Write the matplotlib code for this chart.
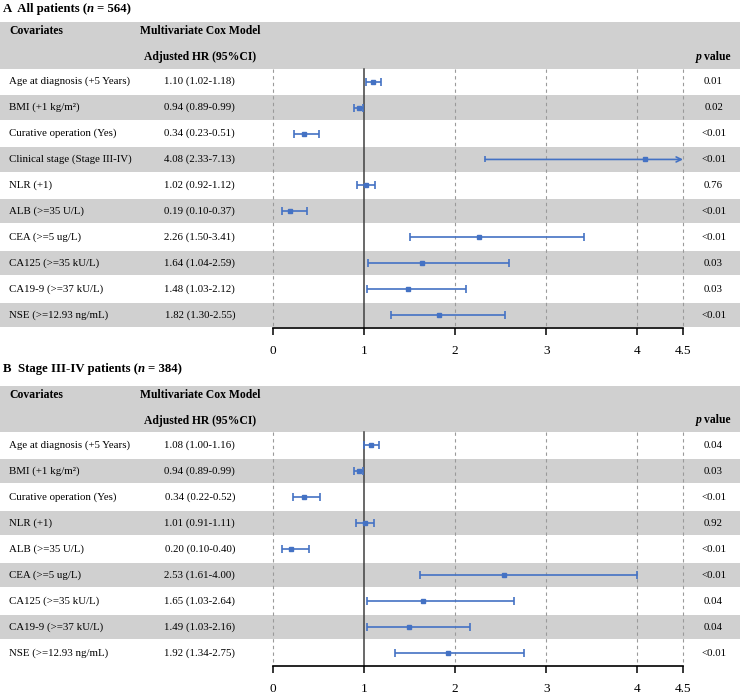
import matplotlib.pyplot as plt
import matplotlib.transforms as mtransforms
import numpy as np

plt.rcParams['font.family'] = ['Liberation Serif', 'DejaVu Serif']

# Panel A: all patients
labels_a = ['Age at diagnosis (+5 Years)', 'BMI (+1 kg/m²)', 'Curative operation (Yes)',
            'Clinical stage (Stage III-IV)', 'NLR (+1)', 'ALB (>=35 U/L)', 'CEA (>=5 ug/L)',
            'CA125 (>=35 kU/L)', 'CA19-9 (>=37 kU/L)', 'NSE (>=12.93 ng/mL)']
hr_a = [1.10, 0.94, 0.34, 4.08, 1.02, 0.19, 2.26, 1.64, 1.48, 1.82]
lo_a = [1.02, 0.89, 0.23, 2.33, 0.92, 0.10, 1.50, 1.04, 1.03, 1.30]
hi_a = [1.18, 0.99, 0.51, 7.13, 1.12, 0.37, 3.41, 2.59, 2.12, 2.55]
p_a = ['0.01', '0.02', '<0.01', '<0.01', '0.76', '<0.01', '<0.01', '0.03', '0.03', '<0.01']

# Panel B: stage III-IV patients
labels_b = ['Age at diagnosis (+5 Years)', 'BMI (+1 kg/m²)', 'Curative operation (Yes)',
            'NLR (+1)', 'ALB (>=35 U/L)', 'CEA (>=5 ug/L)', 'CA125 (>=35 kU/L)',
            'CA19-9 (>=37 kU/L)', 'NSE (>=12.93 ng/mL)']
hr_b = [1.08, 0.94, 0.34, 1.01, 0.20, 2.53, 1.65, 1.49, 1.92]
lo_b = [1.00, 0.89, 0.22, 0.91, 0.10, 1.61, 1.03, 1.03, 1.34]
hi_b = [1.16, 0.99, 0.52, 1.11, 0.40, 4.00, 2.64, 2.16, 2.75]
p_b = ['0.04', '0.03', '<0.01', '0.92', '<0.01', '<0.01', '0.04', '0.04', '<0.01']

ticks = [0, 1, 2, 3, 4, 4.5]
tick_labels = ['0', '1', '2', '3', '4', '4.5']

GRAY = '#d0d0d0'
BLUE = '#4472c4'
W, H = 740, 694
HEADER = 1.8
XMIN, XMAX = -273 / 91.11, (W - 273) / 91.11
FS = 7.8

fig = plt.figure(figsize=(W / 100, H / 100), dpi=100)
renderer = fig.canvas.get_renderer()


def rich_text(x_px, y_px, pieces, size, ha='left'):
    # pieces: (text, style, gap_before_px)
    texts = [fig.text(0, 0, s, fontsize=size, fontweight='bold', fontstyle=st, va='baseline')
             for s, st, g in pieces]
    widths = [t.get_window_extent(renderer).width for t in texts]
    total = sum(widths) + sum(g for _, _, g in pieces)
    x = x_px - total if ha == 'right' else x_px
    for t, w, (s, st, g) in zip(texts, widths, pieces):
        x += g
        t.set_position((x / W, 1 - y_px / H))
        x += w


def draw_panel(ax, labels, hr, lo, hi, pvals):
    n = len(labels)
    top = -0.5 - HEADER
    ax.set_xlim(XMIN, XMAX)
    ax.set_ylim(n - 0.5, top)
    ax.patch.set_visible(False)

    # shaded header and alternate rows
    ax.axhspan(top, -0.5, color=GRAY, lw=0, zorder=0)
    for i in range(1, n, 2):
        ax.axhspan(i - 0.5 + 0.03, i + 0.5 - 0.03, color=GRAY, lw=0, zorder=0)

    # reference lines
    for x in [0, 2, 3, 4, 4.5]:
        ax.plot([x, x], [-0.5, n - 0.5], color='#9a9a9a', lw=0.8, ls=(0, (3, 3)), zorder=1)
    ax.plot([1, 1], [-0.5, n - 0.5], color='#404040', lw=1.1, zorder=2)

    # hazard ratios with CI
    for i in range(n):
        if hi[i] > 4.5:
            ax.annotate('', xy=(4.5, i), xytext=(lo[i], i),
                        arrowprops=dict(arrowstyle='->', color=BLUE, lw=1.2,
                                        shrinkA=0, shrinkB=0, mutation_scale=9), zorder=3)
            ax.plot([lo[i]], [i], marker='|', ms=5, mew=1.2, color=BLUE, zorder=3)
            ax.plot([hr[i]], [i], marker='s', ms=3.5, color=BLUE, zorder=4)
        else:
            ax.errorbar(hr[i], i, xerr=[[hr[i] - lo[i]], [hi[i] - hr[i]]], fmt='s', ms=3.5,
                        color=BLUE, ecolor=BLUE, elinewidth=1.2, capsize=2.6, capthick=1.2, zorder=3)

    tr = mtransforms.blended_transform_factory(ax.transAxes, ax.transData)
    for i in range(n):
        ax.text(0.0128, i, labels[i], transform=tr, fontsize=FS, ha='left', va='center')
        ax.text(0.27, i, f'{hr[i]:.2f} ({lo[i]:.2f}-{hi[i]:.2f})', transform=tr,
                fontsize=FS, ha='center', va='center')
        ax.text(0.9643, i, pvals[i], transform=tr, fontsize=FS, ha='center', va='center')

    ax.text(0.0128, top + 0.36, 'Covariates', transform=tr, fontsize=8.4,
            fontweight='bold', ha='left', va='center')
    ax.text(0.27, top + 0.36, 'Multivariate Cox Model', transform=tr, fontsize=8.4,
            fontweight='bold', ha='center', va='center')
    ax.text(0.27, -0.95, 'Adjusted HR (95%CI)', transform=tr, fontsize=8.4,
            fontweight='bold', ha='center', va='center')

    for side in ['left', 'right', 'top']:
        ax.spines[side].set_visible(False)
    ax.spines['bottom'].set_bounds(0, 4.5)
    ax.spines['bottom'].set_linewidth(1.2)
    ax.set_yticks([])
    ax.set_xticks(ticks)
    ax.set_xticklabels(tick_labels)
    ax.tick_params(axis='x', length=5, width=1.1, pad=7, labelsize=9.5)


ax_a = fig.add_axes([0, 1 - 328 / H, 1, (328 - 22) / H])
ax_b = fig.add_axes([0, 1 - 666 / H, 1, (666 - 385.5) / H])
draw_panel(ax_a, labels_a, hr_a, lo_a, hi_a, p_a)
draw_panel(ax_b, labels_b, hr_b, lo_b, hi_b, p_b)

# panel titles and "p value" headers (mixed bold / bold-italic)
rich_text(3, 12, [('A  All patients (', 'normal', 0), ('n', 'italic', 0), ('= 564)', 'normal', 3)], 9.2)
rich_text(3, 372, [('B  Stage III-IV patients (', 'normal', 0), ('n', 'italic', 0),
                   ('= 384)', 'normal', 3)], 9.2)
rich_text(731, 60, [('p', 'italic', 0), ('value', 'normal', 3)], 8.4, ha='right')
rich_text(731, 423, [('p', 'italic', 0), ('value', 'normal', 3)], 8.4, ha='right')

plt.savefig('out.png', dpi=100)
plt.close()
